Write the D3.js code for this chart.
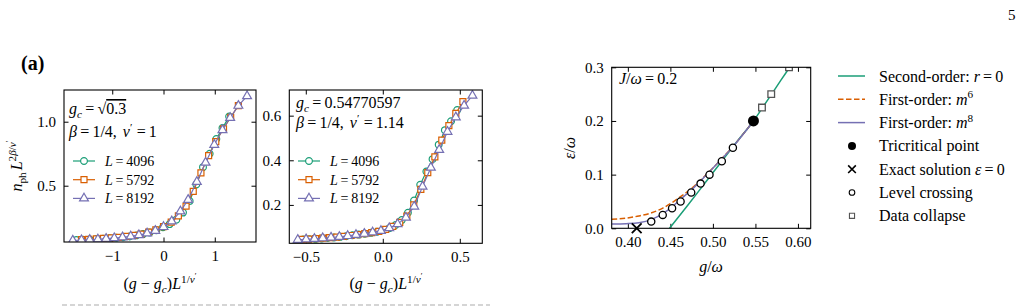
<!DOCTYPE html>
<html><head><meta charset="utf-8">
<script src="https://cdn.jsdelivr.net/npm/d3@7"></script>
<style>html,body{margin:0;padding:0;background:#fff;}svg{display:block;}</style>
</head><body><svg id="c" width="1025" height="308"></svg>
<script>
// ---------- data ----------
const p1CircX = [-1.70,-1.57,-1.44,-1.31,-1.18,-1.05,-0.92,-0.79,-0.66,-0.53,-0.40,-0.27,-0.14,-0.01,0.12,0.25,0.38,0.51,0.64,0.77,0.90,1.03,1.15,1.28];
const p1CircY = [0.075,0.077,0.079,0.082,0.085,0.089,0.093,0.098,0.104,0.112,0.122,0.135,0.152,0.175,0.200,0.235,0.290,0.380,0.510,0.645,0.750,0.865,0.950,1.040];
const p1SqX = [-1.60,-1.46,-1.31,-1.17,-1.02,-0.88,-0.73,-0.58,-0.44,-0.29,-0.15,0.00,0.15,0.29,0.44,0.58,0.73,0.88,1.02,1.17,1.31,1.46];
const p1SqY = [0.079,0.081,0.084,0.088,0.092,0.097,0.104,0.112,0.122,0.137,0.155,0.180,0.215,0.265,0.340,0.455,0.600,0.735,0.845,0.945,1.035,1.125];
const p1TriX = [-1.77,-1.60,-1.44,-1.28,-1.12,-0.96,-0.80,-0.64,-0.48,-0.32,-0.16,0.00,0.16,0.33,0.48,0.65,0.82,0.99,1.15,1.30,1.46,1.63];
const p1TriY = [0.072,0.075,0.078,0.081,0.086,0.091,0.097,0.104,0.114,0.128,0.148,0.178,0.222,0.300,0.390,0.530,0.680,0.820,0.935,1.030,1.125,1.200];

const p2CircX = [-0.517,-0.477,-0.437,-0.397,-0.357,-0.317,-0.277,-0.237,-0.197,-0.157,-0.117,-0.077,-0.037,0.003,0.043,0.083,0.123,0.163,0.203,0.243,0.283,0.323,0.363,0.403,0.443,0.483];
const p2CircY = [0.045,0.046,0.048,0.050,0.052,0.054,0.057,0.060,0.064,0.067,0.071,0.075,0.080,0.087,0.096,0.110,0.132,0.165,0.220,0.290,0.350,0.405,0.470,0.535,0.575,0.625];
const p2SqX = [-0.527,-0.481,-0.436,-0.390,-0.345,-0.299,-0.254,-0.208,-0.163,-0.117,-0.072,-0.026,0.019,0.065,0.110,0.156,0.201,0.247,0.292,0.338,0.383,0.429,0.474,0.520];
const p2SqY = [0.046,0.047,0.049,0.051,0.053,0.056,0.059,0.063,0.067,0.071,0.076,0.081,0.090,0.104,0.122,0.150,0.200,0.270,0.345,0.415,0.490,0.555,0.610,0.663];
const p2TriX = [-0.552,-0.498,-0.444,-0.390,-0.336,-0.282,-0.228,-0.174,-0.120,-0.066,-0.012,0.042,0.096,0.150,0.204,0.258,0.312,0.366,0.420,0.474,0.528,0.582];
const p2TriY = [0.044,0.046,0.048,0.051,0.054,0.057,0.061,0.066,0.071,0.077,0.084,0.096,0.114,0.143,0.193,0.282,0.367,0.447,0.528,0.593,0.645,0.690];

const seriesLabels = ["4096","5792","8192"];

const p3LevelG = [0.4275,0.441,0.452,0.462,0.4745,0.4855,0.496,0.5105,0.5235];
const p3LevelE = [0.0125,0.025,0.0375,0.05,0.0667,0.0833,0.1,0.125,0.15];
const p3CollG = [0.5577,0.5686,0.5895];
const p3CollE = [0.225,0.25,0.30];
const p3TriG = [0.5477]; const p3TriE = [0.2];
const p3ExactG = [0.4104]; const p3ExactE = [0.0];
const p3SecondG = [0.449,0.47,0.49,0.51,0.53,0.5477,0.558,0.569,0.58,0.592,0.60];
const p3SecondE = [0,0.042,0.083,0.124,0.165,0.200,0.224,0.25,0.276,0.304,0.323];
const p3M6G = [0.381,0.398,0.413,0.428,0.4416,0.452,0.462,0.4746,0.4857,0.496,0.51,0.5233,0.5477];
const p3M6E = [0.0167,0.019,0.023,0.029,0.038,0.048,0.059,0.074,0.09,0.106,0.129,0.152,0.2];
const p3M8G = [0.381,0.398,0.413,0.428,0.4416,0.452,0.462,0.4746,0.4857,0.496,0.51,0.5233,0.5477];
const p3M8E = [0.008,0.0087,0.0105,0.0167,0.028,0.040,0.054,0.0714,0.0887,0.1054,0.1285,0.1515,0.2];

const p1XTicks = [-1,0,1], p1YTicks = [0.5,1.0];
const p2XTicks = [-0.5,0,0.5], p2YTicks = [0.2,0.4,0.6];
const p3XTicks = [0.40,0.45,0.50,0.55,0.60], p3YTicks = [0,0.1,0.2,0.3];

// ---------- helpers ----------
const FONT = "'Liberation Serif','DejaVu Serif',serif";
const C = {green:"#1b9e77", orange:"#d95f02", purple:"#7570b3"};
const svg = d3.select("#c");
const fmtMinus = s => s.replace("-", "\u2212");

function rich(g, x, y, segs, fs, anchor, rot) {
  const t = g.append("text").attr("x", x).attr("y", y)
    .attr("font-family", FONT).attr("font-size", fs)
    .attr("text-anchor", anchor || "start").attr("fill", "#000");
  if (rot) t.attr("transform", `rotate(-90,${x},${y})`);
  const off = {"0":0, "-1":0.22, "1":-0.40, "2":-0.62};
  const sz = {"0":1, "-1":0.7, "1":0.7, "2":0.5};
  let cur = 0;
  segs.forEach(s => {
    const l = String(s.l || 0);
    const target = off[l] * fs;
    const sp = t.append("tspan").text(s.t).attr("font-size", sz[l] * fs).attr("dy", target - cur);
    if (s.i) sp.attr("font-style", "italic");
    if (s.dx) sp.attr("dx", s.dx);
    if (s.ol) sp.attr("text-decoration", "overline");
    cur = target;
  });
  return t;
}

function frame(g, x, y, xt, yt, fmtX, fmtY, clipId) {
  const [x0, x1] = x.range(), [y0, y1] = y.range();
  g.append("defs").append("clipPath").attr("id", clipId)
    .append("rect").attr("x", x0).attr("y", y1).attr("width", x1 - x0).attr("height", y0 - y1);
  const tl = 4.5;
  const axB = d3.axisBottom(x).tickValues(xt).tickSizeInner(-tl).tickSizeOuter(0).tickPadding(8).tickFormat(d => fmtMinus(fmtX(d)));
  const axT = d3.axisTop(x).tickValues(xt).tickSizeInner(-tl).tickSizeOuter(0).tickFormat("");
  const axL = d3.axisLeft(y).tickValues(yt).tickSizeInner(-tl).tickSizeOuter(0).tickPadding(8).tickFormat(d => fmtMinus(fmtY(d)));
  const axR = d3.axisRight(y).tickValues(yt).tickSizeInner(-tl).tickSizeOuter(0).tickFormat("");
  const gb = g.append("g").attr("transform", `translate(0,${y0})`).call(axB);
  const gt = g.append("g").attr("transform", `translate(0,${y1})`).call(axT);
  const gl = g.append("g").attr("transform", `translate(${x0},0)`).call(axL);
  const gr = g.append("g").attr("transform", `translate(${x1},0)`).call(axR);
  [gb, gt, gl, gr].forEach(a => {
    a.select(".domain").remove();
    a.selectAll("line").attr("stroke", "#000").attr("stroke-width", 1);
    a.selectAll("text").attr("font-family", FONT).attr("font-size", 15).attr("fill", "#000");
  });
  return {clip: `url(#${clipId})`, box: [x0, y1, x1 - x0, y0 - y1]};
}
function drawBox(g, b) {
  g.append("rect").attr("x", b[0]).attr("y", b[1]).attr("width", b[2]).attr("height", b[3])
    .attr("fill", "none").attr("stroke", "#000").attr("stroke-width", 1.1);
}

const sym = {
  circ: d3.symbol().type(d3.symbolCircle).size(36),
  sq: d3.symbol().type(d3.symbolSquare).size(36),
  tri: d3.symbol().type(d3.symbolTriangle).size(34)
};

function collapsePanel(g, x, y, xs, ys) {
  const line = d3.line().x(d => x(d[0])).y(d => y(d[1]));
  const cl = g.append("g").attr("clip-path", g.clip);
  const defs = [
    {k:"circ", c:C.green}, {k:"sq", c:C.orange}, {k:"tri", c:C.purple}
  ];
  defs.forEach((d, i) => {
    const pts = xs[i].map((v, j) => [v, ys[i][j]]);
    cl.append("path").attr("d", line(pts)).attr("fill", "none").attr("stroke", d.c).attr("stroke-width", 1.2);
    cl.selectAll(null).data(pts).enter().append("path")
      .attr("d", sym[d.k]).attr("transform", p => `translate(${x(p[0])},${y(p[1])})`)
      .attr("fill", "#fff").attr("stroke", d.c).attr("stroke-width", 1.2);
  });
}

function collapseLegend(g, lx, ly) {
  const defs = [{k:"circ", c:C.green}, {k:"sq", c:C.orange}, {k:"tri", c:C.purple}];
  defs.forEach((d, i) => {
    const yy = ly + i * 18.7;
    g.append("line").attr("x1", lx).attr("x2", lx + 22).attr("y1", yy).attr("y2", yy).attr("stroke", d.c).attr("stroke-width", 1.2);
    g.append("path").attr("d", sym[d.k]).attr("transform", `translate(${lx + 11},${yy})`).attr("fill", "#fff").attr("stroke", d.c).attr("stroke-width", 1.2);
    rich(g, lx + 32, yy + 5, [{t:"L", i:1}, {t:"\u2009=\u2009"}, {t:seriesLabels[i]}], 14);
  });
}

// ---------- page furniture ----------
svg.append("text").attr("x", 1008).attr("y", 20).attr("font-family", FONT).attr("font-size", 15).text("5");
svg.append("text").attr("x", 21).attr("y", 70).attr("font-family", FONT).attr("font-size", 20).attr("font-weight", "bold").text("(a)");
svg.append("line").attr("x1", 62).attr("x2", 490).attr("y1", 305).attr("y2", 305)
  .attr("stroke", "#c8c8c8").attr("stroke-width", 1.3).attr("stroke-dasharray", "5,3");

// ---------- panel 1 ----------
{
  const g = svg.append("g");
  const x = d3.scaleLinear().domain([-1.941, 1.804]).range([64, 256]);
  const y = d3.scaleLinear().domain([0.0602, 1.2477]).range([242, 90]);
  const f = frame(g, x, y, p1XTicks, p1YTicks, d3.format("d"), d3.format(".1f"), "clip1");
  g.clip = f.clip;
  collapsePanel(g, x, y, [p1CircX, p1SqX, p1TriX], [p1CircY, p1SqY, p1TriY]);
  drawBox(g, f.box);
  rich(g, 69, 114, [{t:"g", i:1}, {t:"c", i:1, l:-1}, {t:"\u2009=\u2009"}, {t:"\u221A"}, {t:"0.3", ol:1}], 16);
  rich(g, 69, 137, [{t:"\u03B2", i:1}, {t:"\u2009=\u2009"}, {t:"1/4,"}, {t:"\u03BD", i:1, dx:6}, {t:"\u2032", l:1}, {t:"\u2009=\u20091", dx:1}], 16);
  collapseLegend(g, 73, 161);
  rich(g, 160, 289, [{t:"("}, {t:"g", i:1}, {t:" \u2212 "}, {t:"g", i:1}, {t:"c", i:1, l:-1}, {t:")"}, {t:"L", i:1}, {t:"1/", l:1}, {t:"\u03BD", i:1, l:1}, {t:"\u2032", l:2}], 16, "middle");
  rich(g, 22, 166, [{t:"n", i:1}, {t:"ph", l:-1}, {t:"L", i:1, dx:2}, {t:"2", l:1}, {t:"\u03B2", i:1, l:1}, {t:"/", l:1}, {t:"\u03BD", i:1, l:1}, {t:"\u2032", l:2}], 16, "middle", true);
}

// ---------- panel 2 ----------
{
  const g = svg.append("g");
  const x = d3.scaleLinear().domain([-0.607, 0.646]).range([289.3, 482.3]);
  const y = d3.scaleLinear().domain([0.028, 0.715]).range([243.3, 90]);
  const f = frame(g, x, y, p2XTicks, p2YTicks, d3.format(".1f"), d3.format(".1f"), "clip2");
  g.clip = f.clip;
  collapsePanel(g, x, y, [p2CircX, p2SqX, p2TriX], [p2CircY, p2SqY, p2TriY]);
  drawBox(g, f.box);
  rich(g, 296, 108, [{t:"g", i:1}, {t:"c", i:1, l:-1}, {t:"\u2009=\u2009"}, {t:"0.54770597"}], 16);
  rich(g, 296, 128, [{t:"\u03B2", i:1}, {t:"\u2009=\u2009"}, {t:"1/4,"}, {t:"\u03BD", i:1, dx:6}, {t:"\u2032", l:1}, {t:"\u2009=\u20091.14", dx:1}], 16);
  collapseLegend(g, 298, 161);
  rich(g, 386, 289, [{t:"("}, {t:"g", i:1}, {t:" \u2212 "}, {t:"g", i:1}, {t:"c", i:1, l:-1}, {t:")"}, {t:"L", i:1}, {t:"1/", l:1}, {t:"\u03BD", i:1, l:1}, {t:"\u2032", l:2}], 16, "middle");
}

// ---------- panel 3 ----------
{
  const g = svg.append("g");
  const x = d3.scaleLinear().domain([0.381, 0.615]).range([611.7, 810.7]);
  const y = d3.scaleLinear().domain([0, 0.3]).range([228.3, 67.3]);
  const f = frame(g, x, y, p3XTicks, p3YTicks, d3.format(".2f"), d3.format(".1f"), "clip3");
  const cl = g.append("g").attr("clip-path", f.clip);
  const line = d3.line().x(d => x(d[0])).y(d => y(d[1])).curve(d3.curveMonotoneX);
  const zip = (a, b) => a.map((v, i) => [v, b[i]]);
  cl.append("path").attr("d", line(zip(p3SecondG, p3SecondE))).attr("fill", "none").attr("stroke", C.green).attr("stroke-width", 1.5);
  cl.append("path").attr("d", line(zip(p3M6G, p3M6E))).attr("fill", "none").attr("stroke", C.orange).attr("stroke-width", 1.5).attr("stroke-dasharray", "5.5,2.5");
  cl.append("path").attr("d", line(zip(p3M8G, p3M8E))).attr("fill", "none").attr("stroke", C.purple).attr("stroke-width", 1.5);
  cl.selectAll(null).data(zip(p3LevelG, p3LevelE)).enter().append("circle")
    .attr("cx", d => x(d[0])).attr("cy", d => y(d[1])).attr("r", 3.6)
    .attr("fill", "#fff").attr("stroke", "#000").attr("stroke-width", 1.3);
  cl.selectAll(null).data(zip(p3CollG, p3CollE)).enter().append("path")
    .attr("d", d3.symbol().type(d3.symbolSquare).size(44)).attr("transform", d => `translate(${x(d[0])},${y(d[1])})`)
    .attr("fill", "#fff").attr("stroke", "#555").attr("stroke-width", 1.3);
  cl.selectAll(null).data(zip(p3TriG, p3TriE)).enter().append("circle")
    .attr("cx", d => x(d[0])).attr("cy", d => y(d[1])).attr("r", 5.5).attr("fill", "#000");
  g.selectAll(null).data(zip(p3ExactG, p3ExactE)).enter().append("path")
    .attr("d", d3.symbol().type(d3.symbolTimes).size(64)).attr("transform", d => `translate(${x(d[0])},${y(d[1])})`)
    .attr("fill", "none").attr("stroke", "#000").attr("stroke-width", 1.8);
  drawBox(g, f.box);
  rich(g, 619, 84, [{t:"J", i:1}, {t:"/"}, {t:"\u03C9", i:1}, {t:"\u2009=\u2009"}, {t:"0.2"}], 16);
  rich(g, 711, 272, [{t:"g", i:1}, {t:"/"}, {t:"\u03C9", i:1}], 16, "middle");
  rich(g, 575, 148, [{t:"\u03B5", i:1}, {t:"/"}, {t:"\u03C9", i:1}], 16, "middle", true);

  // legend
  const lx = 838, ly = 76, dy = 23.3;
  const items = [
    {type:"line", c:C.green, segs:[{t:"Second-order: "}, {t:"r", i:1}, {t:"\u2009=\u2009"}, {t:"0"}]},
    {type:"dash", c:C.orange, segs:[{t:"First-order: "}, {t:"m", i:1}, {t:"6", l:1}]},
    {type:"line", c:C.purple, segs:[{t:"First-order: "}, {t:"m", i:1}, {t:"8", l:1}]},
    {type:"dot", segs:[{t:"Tricritical point"}]},
    {type:"x", segs:[{t:"Exact solution "}, {t:"\u03B5", i:1}, {t:"\u2009=\u2009"}, {t:"0"}]},
    {type:"circ", segs:[{t:"Level crossing"}]},
    {type:"sq", segs:[{t:"Data collapse"}]}
  ];
  const lg = svg.append("g");
  items.forEach((it, i) => {
    const yy = ly + i * dy, cx = lx + 14;
    if (it.type === "line" || it.type === "dash") {
      const l = lg.append("line").attr("x1", lx).attr("x2", lx + 27).attr("y1", yy).attr("y2", yy).attr("stroke", it.c).attr("stroke-width", 1.5);
      if (it.type === "dash") l.attr("stroke-dasharray", "5.5,2.5");
    } else if (it.type === "dot") {
      lg.append("circle").attr("cx", cx).attr("cy", yy).attr("r", 4).attr("fill", "#000");
    } else if (it.type === "x") {
      lg.append("path").attr("d", d3.symbol().type(d3.symbolTimes).size(40)).attr("transform", `translate(${cx},${yy})`).attr("fill", "none").attr("stroke", "#000").attr("stroke-width", 1.6);
    } else if (it.type === "circ") {
      lg.append("circle").attr("cx", cx).attr("cy", yy).attr("r", 2.8).attr("fill", "#fff").attr("stroke", "#000").attr("stroke-width", 1.1);
    } else if (it.type === "sq") {
      lg.append("path").attr("d", d3.symbol().type(d3.symbolSquare).size(26)).attr("transform", `translate(${cx},${yy})`).attr("fill", "#fff").attr("stroke", "#555").attr("stroke-width", 1.1);
    }
    rich(lg, 879, yy + 5.5, it.segs, 16);
  });
}
</script></body></html>
